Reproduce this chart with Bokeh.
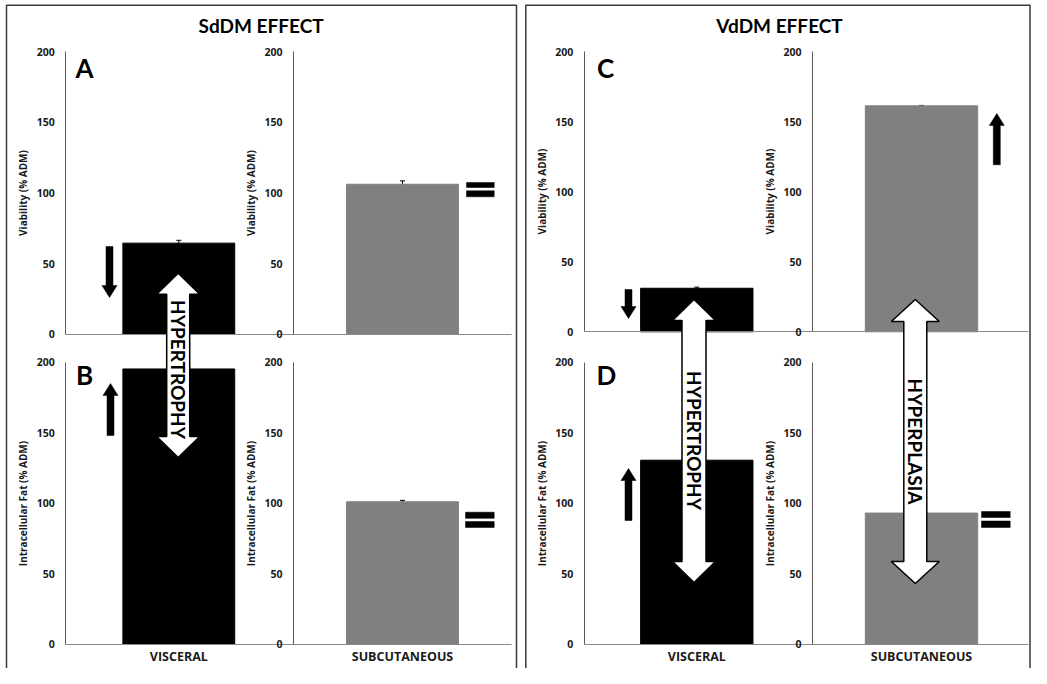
import numpy as np
from bokeh.plotting import figure
from bokeh.models import (Range1d, LinearAxis, FixedTicker, ColumnDataSource,
                          Whisker, TeeHead)
from bokeh.embed import file_html
from bokeh.resources import INLINE
from bokeh.core.properties import value

# ---------------- data ----------------
categories = ["VISCERAL", "SUBCUTANEOUS"]
sddm_viability = [64.5, 106.2]
sddm_viability_err = [2.0, 2.4]
sddm_fat = [195.2, 101.0]
sddm_fat_err = [0.0, 1.0]
vddm_viability = [31.1, 161.4]
vddm_viability_err = [0.8, 0.3]
vddm_fat = [130.5, 93.0]
vddm_fat_err = [0.0, 0.0]
bar_colors = ["#000000", "#808080"]
y_ticks = [0, 50, 100, 150, 200]
panel_titles = ["SdDM EFFECT", "VdDM EFFECT"]
panel_letters = [["A", "B"], ["C", "D"]]
row_labels = ["Viability (% ADM)", "Intracellular Fat (% ADM)"]
big_arrow_texts = ["HYPERTROPHY", "HYPERTROPHY", "HYPERPLASIA"]

values = [[sddm_viability, sddm_fat], [vddm_viability, vddm_fat]]
errors = [[sddm_viability_err, sddm_fat_err], [vddm_viability_err, vddm_fat_err]]

# ---------------- layout (page pixel geometry) ----------------
W, H = 1031, 668
OFF = 8
FONT = "Lato"
SMALL_FONT = "Open Sans"

boxes = [
    {"left": 14, "right": 524, "top": 12.7, "title_x": 268.6, "c0": 186.3, "unit": 223.7,
     "axis_x": [73.3, 301.0], "base_end": 519.0, "base": [341.7, 651.7], "k": [1.412, 1.41],
     "letters_xy": [(92, 75), (92, 382)]},
    {"left": 533.3, "right": 1037.5, "top": 12.7, "title_x": 787.0, "c0": 704.3, "unit": 224.7,
     "axis_x": [591.7, 820.0], "base_end": 1036.0, "base": [339.3, 651.7], "k": [1.40, 1.41],
     "letters_xy": [(613, 75), (614, 382)]},
]
# small black arrows: (cx, y_tail, y_tip)
small_arrows = [(117, 254, 305), (118, 443, 391), (636, 297, 326), (1004.3, 172.3, 121), (636, 528, 476)]
# equal signs: (x0, x1, [(ya0, ya1), (yb0, yb1)])
equal_signs = [(474, 501.7, [(190, 195), (198.3, 204.3)]),
               (473, 501.7, [(519.7, 525.8), (529, 535)]),
               (989, 1017.7, [(519, 525), (528.5, 535)])]
# big double arrows: (cx, y_top_tip, y_bottom_tip, head_len, head_half_w, shaft_half_w, text_y)
big_arrows = [(185.7, 280.7, 465.0, 21, 21.5, 11.5, 377),
              (701.5, 307.0, 590.0, 21, 21.5, 12.0, 448),
              (922.8, 307.0, 591.0, 22, 24.0, 11.5, 449)]

p = figure(width=W, height=H, x_range=Range1d(OFF, OFF + W), y_range=Range1d(OFF + H, OFF),
           x_axis_type=None, y_axis_type=None, toolbar_location=None,
           output_backend="svg", min_border=0, outline_line_color=None)
p.background_fill_color = "white"
p.border_fill_color = "white"

bottom_page = OFF + H

for b, bx in enumerate(boxes):
    # box border (bottom is off-page)
    p.line(x=[bx["left"], bx["left"], bx["right"], bx["right"]],
           y=[bottom_page, bx["top"], bx["top"], bottom_page],
           line_color="#3a3a3a", line_width=1.5)
    # title
    p.text(x=[bx["title_x"]], y=[33], text=[panel_titles[b]], text_align="center",
           text_baseline="middle", text_font=value(FONT), text_font_style="bold",
           text_font_size="19px", text_color="black")

    cat_name = f"cat{b}"
    c0, unit = bx["c0"], bx["unit"]
    p.extra_x_ranges[cat_name] = Range1d((OFF - c0) / unit, (OFF + W - c0) / unit)

    for r in range(2):
        B, k = bx["base"][r], bx["k"][r]
        rn = f"b{b}r{r}"
        p.extra_y_ranges[rn] = Range1d((B - (OFF + H)) / k, (B - OFF) / k)

        # bars
        src = ColumnDataSource(dict(x=[0, 1], top=values[b][r], color=bar_colors,
                                    cat=categories))
        p.vbar(x="x", top="top", bottom=0, width=0.5, source=src, fill_color="color",
               line_color="color", x_range_name=cat_name, y_range_name=rn)

        # error bars
        ex, up, lo = [], [], []
        for i, e in enumerate(errors[b][r]):
            if e > 0:
                ex.append(i)
                up.append(values[b][r][i] + e)
                lo.append(values[b][r][i] - e)
        if ex:
            wsrc = ColumnDataSource(dict(x=ex, upper=up, lower=lo))
            p.add_layout(Whisker(source=wsrc, base="x", upper="upper", lower="lower",
                                 x_range_name=cat_name, y_range_name=rn,
                                 line_color="black", line_width=1,
                                 upper_head=TeeHead(size=5, line_color="black", line_width=1),
                                 lower_head=TeeHead(size=5, line_color="black", line_width=1)))

        # y axes for both subplots of this row
        for c in range(2):
            ax = LinearAxis(y_range_name=rn, fixed_location=bx["axis_x"][c], bounds=(0, 200),
                            ticker=FixedTicker(ticks=y_ticks, minor_ticks=[]),
                            axis_label=row_labels[r])
            ax.axis_line_color = "#5a5a5a"
            ax.axis_line_width = 1
            ax.major_tick_in = 0
            ax.major_tick_out = 0
            ax.minor_tick_in = 0
            ax.minor_tick_out = 0
            ax.major_label_standoff = 11
            ax.major_label_text_font = SMALL_FONT
            ax.major_label_text_font_style = "bold"
            ax.major_label_text_font_size = "10.5px"
            ax.major_label_text_color = "#1a1a1a"
            ax.axis_label_standoff = 3
            ax.axis_label_text_font = SMALL_FONT
            ax.axis_label_text_font_style = "bold"
            ax.axis_label_text_font_size = "10px"
            ax.axis_label_text_color = "#1a1a1a"
            p.add_layout(ax, "left")

        # baseline (x axis) across the row
        xa = LinearAxis(x_range_name=cat_name, fixed_location=B,
                        bounds=((bx["axis_x"][0] - c0) / unit, (bx["base_end"] - c0) / unit),
                        ticker=FixedTicker(ticks=[0, 1] if r == 1 else [], minor_ticks=[]))
        xa.axis_line_color = "#8a8a8a"
        xa.axis_line_width = 1
        xa.major_tick_in = 0
        xa.major_tick_out = 0
        xa.minor_tick_in = 0
        xa.minor_tick_out = 0
        if r == 1:
            xa.major_label_overrides = {0: categories[0], 1: categories[1]}
            xa.major_label_standoff = 4
            xa.major_label_text_font = SMALL_FONT
            xa.major_label_text_font_style = "bold"
            xa.major_label_text_font_size = "12.5px"
            xa.major_label_text_color = "#1a1a1a"
        else:
            xa.major_label_text_font_size = "0px"
        p.add_layout(xa, "below")

        # panel letter
        lx, ly = bx["letters_xy"][r]
        p.text(x=[lx], y=[ly], text=[panel_letters[b][r]], text_align="center",
               text_baseline="middle", text_font=value(FONT), text_font_style="bold",
               text_font_size="26px", text_color="black")

# small black arrows
xs, ys = [], []
for cx, yt, yp in small_arrows:
    d = 1 if yp > yt else -1
    hl, hw, sw = 12, 7.5, 3.5
    yb = yp - d * hl
    xs.append([cx - sw, cx + sw, cx + sw, cx + hw, cx, cx - hw, cx - sw])
    ys.append([yt, yt, yb, yb, yp, yb, yb])
p.patches(xs=xs, ys=ys, fill_color="black", line_color="black", line_width=0.5)

# equal signs
ql, qr, qt, qb = [], [], [], []
for x0, x1, bars in equal_signs:
    for y0, y1 in bars:
        ql.append(x0); qr.append(x1); qt.append(y0); qb.append(y1)
p.quad(left=ql, right=qr, top=qt, bottom=qb, fill_color="black", line_color="black",
       line_width=0.5)

# big white double arrows with text
xs, ys = [], []
for cx, y1, y2, hl, hw, sw, ty in big_arrows:
    xs.append([cx, cx + hw, cx + sw, cx + sw, cx + hw, cx, cx - hw, cx - sw, cx - sw, cx - hw])
    ys.append([y1, y1 + hl, y1 + hl, y2 - hl, y2 - hl, y2, y2 - hl, y2 - hl, y1 + hl, y1 + hl])
p.patches(xs=xs, ys=ys, fill_color="white", line_color="black", line_width=1.5,
          level="annotation")
p.text(x=[a[0] for a in big_arrows], y=[a[6] for a in big_arrows], text=big_arrow_texts,
       angle=-np.pi / 2, text_align="center", text_baseline="middle",
       text_font=value(FONT), text_font_style="bold", text_font_size="19px",
       text_color="black", level="annotation")

open("out.html", "w").write(file_html(p, INLINE))
